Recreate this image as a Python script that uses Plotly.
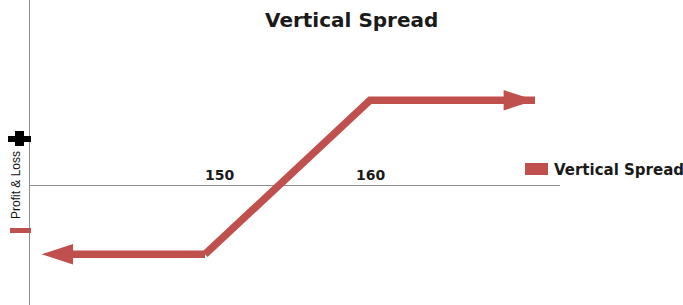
import plotly.graph_objects as go

# ---- data ----
price_points = [140.1, 150, 160, 170.0]   # underlying price at ends / strikes
pnl_values = [-4.5, -4.5, 5.5, 5.5]        # profit & loss at those prices
tick_positions = [150, 160]
tick_labels = ["150", "160"]
series_name = "Vertical Spread"
title_text = "Vertical Spread"
yaxis_label = "Profit & Loss"

RED = "#C0504D"
AXIS = "#8f8f8f"
W, H = 683, 305
ML, MR, MT, MB = 30, 123, 0, 0
PW, PH = W - ML - MR, H - MT - MB


def px(x):
    return (x - ML) / PW


def py(y):
    return 1 - (y - MT) / PH


fig = go.Figure()

left_x = price_points[1::-1]
left_y = pnl_values[1::-1]
right_x = price_points[1:]
right_y = pnl_values[1:]

for xs, ys in ((left_x, left_y), (right_x, right_y)):
    fig.add_trace(go.Scatter(
        x=xs, y=ys, mode="lines+markers", name=series_name, showlegend=False,
        line=dict(color=RED, width=7.5),
        marker=dict(symbol="arrow", size=[0] * (len(xs) - 1) + [33],
                    angleref="previous", color=RED, opacity=1,
                    line=dict(width=0, color=RED)),
        opacity=1,
        hoverinfo="skip",
    ))

annotations = []
shifts = [14, 0]
for pos, lab, sh in zip(tick_positions, tick_labels, shifts):
    annotations.append(dict(x=pos, y=0, xref="x", yref="y", text=lab, showarrow=False,
                            xshift=sh, yshift=10,
                            font=dict(family="DejaVu Sans", size=14, color="#1a1a1a", weight="bold")))

annotations.append(dict(x=px(351), y=py(20), xref="paper", yref="paper", text=title_text,
                        showarrow=False, xanchor="center", yanchor="middle",
                        font=dict(family="DejaVu Sans", size=20, color="#1a1a1a", weight="bold")))
annotations.append(dict(x=px(16), y=py(185), xref="paper", yref="paper", text=yaxis_label,
                        showarrow=False, textangle=-90, xanchor="center", yanchor="middle",
                        font=dict(family="Liberation Sans", size=12, color="#111111")))
annotations.append(dict(x=px(552), y=py(170), xref="paper", yref="paper", text=series_name,
                        showarrow=False, xanchor="left", yanchor="middle",
                        font=dict(family="DejaVu Sans", size=15, color="#1a1a1a", weight="bold")))

shapes = [
    dict(type="rect", xref="paper", yref="paper", x0=px(525), x1=px(548), y0=py(175), y1=py(163),
         fillcolor=RED, line=dict(width=0)),
    dict(type="rect", xref="paper", yref="paper", x0=px(8), x1=px(31), y0=py(142), y1=py(136),
         fillcolor="black", line=dict(width=0)),
    dict(type="rect", xref="paper", yref="paper", x0=px(15), x1=px(24), y0=py(146), y1=py(131),
         fillcolor="black", line=dict(width=0)),
    dict(type="rect", xref="paper", yref="paper", x0=px(10), x1=px(31), y0=py(233), y1=py(228),
         fillcolor=RED, line=dict(width=0)),
]

x_per_px = 1 / 16.5
y_per_px = 1 / 15.4
fig.update_layout(
    width=W, height=H,
    margin=dict(l=ML, r=MR, t=MT, b=MB),
    paper_bgcolor="white", plot_bgcolor="white",
    showlegend=False,
    xaxis=dict(range=[150 - 175 * x_per_px, 150 + 355 * x_per_px], showgrid=False,
               zeroline=False, showticklabels=False, showline=False, fixedrange=True),
    yaxis=dict(range=[-120 * y_per_px, 185 * y_per_px], showgrid=False,
               zeroline=True, zerolinecolor=AXIS, zerolinewidth=1,
               showline=True, linecolor=AXIS, linewidth=1,
               showticklabels=False, ticks="", fixedrange=True),
    annotations=annotations,
    shapes=shapes,
)

fig.write_html("out.html", config={"displayModeBar": False, "staticPlot": True},
               post_script="document.body.style.margin='0px';document.body.style.overflow='hidden';")
